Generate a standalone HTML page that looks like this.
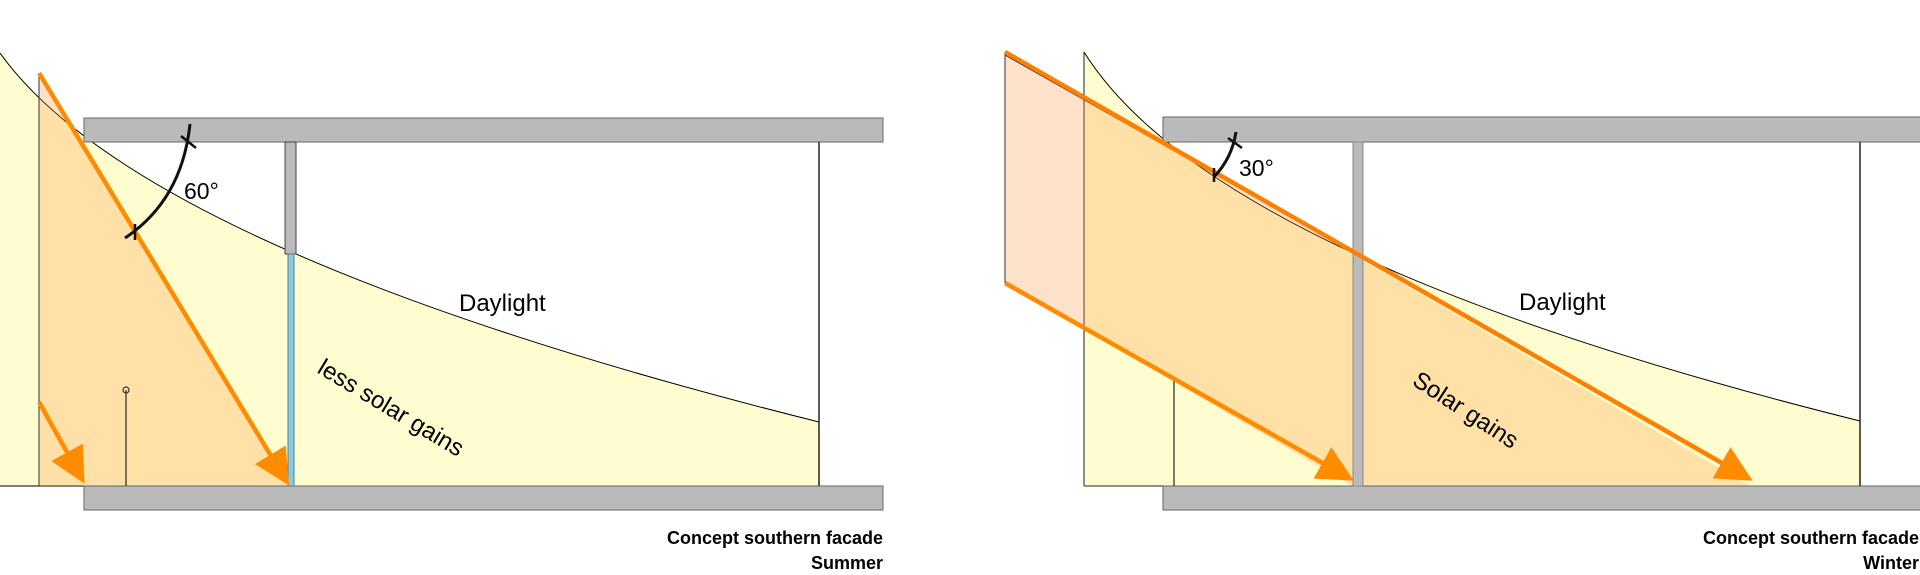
<!DOCTYPE html>
<html><head><meta charset="utf-8"><style>
html,body{margin:0;padding:0;background:#fff;}
svg{display:block;}
text{font-family:"Liberation Sans",Arial,sans-serif;}
</style></head><body>
<svg width="1920" height="575" viewBox="0 0 1920 575" xmlns="http://www.w3.org/2000/svg">
<defs>
<marker id="ah" markerWidth="8" markerHeight="8" refX="5" refY="4" orient="auto" markerUnits="strokeWidth">
<path d="M0,0 L8,4 L0,8 Z" fill="#FF8C00"/></marker>
</defs>
<!-- LEFT PANEL -->
<path d="M0,53 Q143,253 819,422 L819,486 L0,486 Z" fill="#FFFDD0"/>
<path d="M0,53 Q143,253 819,422" fill="none" stroke="#000" stroke-width="1"/>
<line x1="0" y1="486" x2="84" y2="486" stroke="#000" stroke-width="1"/>
<polygon points="39,73 288,486 39,486" fill="rgba(255,150,60,0.28)"/>
<line x1="39" y1="77" x2="39" y2="486" stroke="#333" stroke-width="1"/>
<rect x="84" y="118" width="799" height="24" fill="#BABABA" stroke="#666" stroke-width="1"/>
<rect x="84" y="486" width="799" height="24" fill="#BABABA" stroke="#666" stroke-width="1"/>
<line x1="819" y1="142" x2="819" y2="486" stroke="#222" stroke-width="1.5"/>
<rect x="285" y="142" width="11" height="112" fill="#BABABA" stroke="#444" stroke-width="1"/>
<rect x="288" y="254" width="6" height="232" fill="#8EC8E0" stroke="#4a7f99" stroke-width="1"/>
<line x1="126" y1="390" x2="126" y2="486" stroke="#333" stroke-width="1.3"/>
<circle cx="126" cy="390" r="3" fill="none" stroke="#333" stroke-width="1.2"/>
<line x1="39" y1="73" x2="282" y2="474" stroke="#FF8C00" stroke-width="4.5" marker-end="url(#ah)"/>
<line x1="39" y1="402" x2="78" y2="472" stroke="#FF8C00" stroke-width="4.5" marker-end="url(#ah)"/>
<path d="M190,124 Q182,200 125,238" fill="none" stroke="#111" stroke-width="3"/>
<line x1="181" y1="136" x2="196" y2="148" stroke="#111" stroke-width="2.5"/>
<line x1="135" y1="224" x2="135" y2="240" stroke="#111" stroke-width="2.5"/>
<text x="184" y="199" font-size="23">60°</text>
<text x="459" y="311" font-size="24">Daylight</text>
<text x="0" y="0" font-size="24" transform="translate(316,372) rotate(31)">less solar gains</text>
<text x="883" y="544" font-size="18" font-weight="bold" text-anchor="end">Concept southern facade</text>
<text x="883" y="569" font-size="18" font-weight="bold" text-anchor="end">Summer</text>

<!-- RIGHT PANEL -->
<path d="M1084,52 Q1214,260 1860,421 L1860,486 L1084,486 Z" fill="#FFFDD0"/>
<path d="M1084,52 Q1214,260 1860,421" fill="none" stroke="#000" stroke-width="1"/>
<line x1="1084" y1="52" x2="1084" y2="486" stroke="#222" stroke-width="1"/>
<line x1="1084" y1="486" x2="1163" y2="486" stroke="#222" stroke-width="1"/>
<polygon points="1005,52 1750,486 1352,486 1005,283" fill="rgba(255,150,60,0.28)"/>
<line x1="1005" y1="52" x2="1005" y2="283" stroke="#333" stroke-width="1"/>
<line x1="1005" y1="55" x2="1360" y2="256" stroke="#222" stroke-width="1"/>
<rect x="1163" y="117" width="760" height="25" fill="#BABABA" stroke="#666" stroke-width="1"/>
<rect x="1163" y="486" width="760" height="24" fill="#BABABA" stroke="#666" stroke-width="1"/>
<line x1="1860" y1="142" x2="1860" y2="486" stroke="#222" stroke-width="1.5"/>
<rect x="1353" y="142" width="10" height="344" fill="#BABABA" stroke="#888" stroke-width="1"/>
<line x1="1174" y1="378" x2="1174" y2="486" stroke="#333" stroke-width="1.3"/>
<line x1="1005" y1="52" x2="1741" y2="474" stroke="#FF7F00" stroke-width="4.5" marker-end="url(#ah)"/>
<line x1="1005" y1="283" x2="1342" y2="474" stroke="#FF8C00" stroke-width="4.5" marker-end="url(#ah)"/>
<path d="M1236,132 Q1232,158 1214,177" fill="none" stroke="#111" stroke-width="3"/>
<line x1="1228" y1="138" x2="1242" y2="148" stroke="#111" stroke-width="2.5"/>
<line x1="1214" y1="168" x2="1214" y2="182" stroke="#111" stroke-width="2.5"/>
<text x="1239" y="176" font-size="23">30°</text>
<text x="1519" y="310" font-size="24">Daylight</text>
<text x="0" y="0" font-size="24" transform="translate(1411,384) rotate(33)">Solar gains</text>
<text x="1919" y="544" font-size="18" font-weight="bold" text-anchor="end">Concept southern facade</text>
<text x="1919" y="569" font-size="18" font-weight="bold" text-anchor="end">Winter</text>
</svg>
</body></html>
